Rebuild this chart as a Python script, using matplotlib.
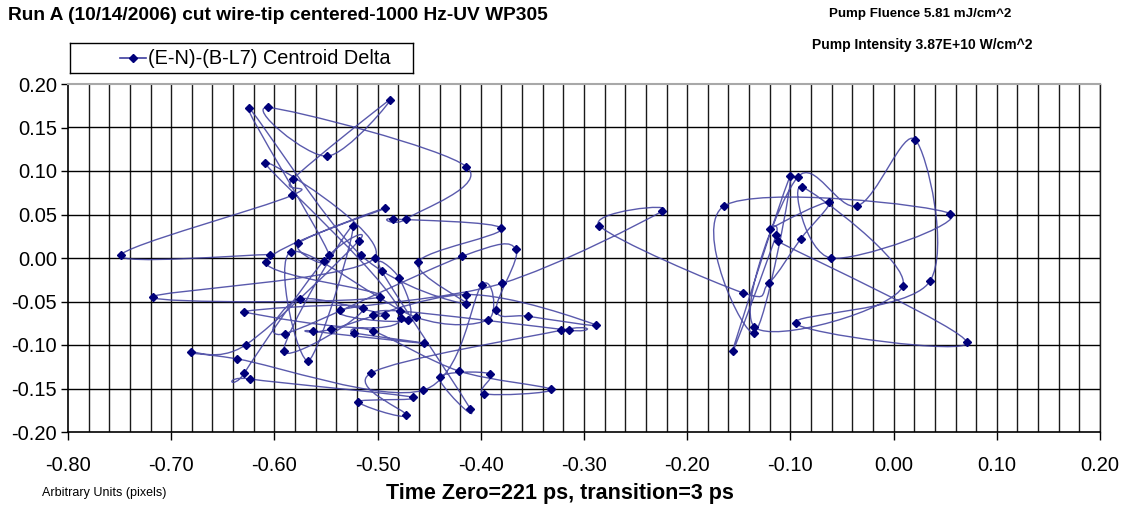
import matplotlib
matplotlib.use("Agg")
import matplotlib.pyplot as plt
from matplotlib.path import Path
from matplotlib.patches import PathPatch
import numpy as np

plt.rcParams['font.family'] = ['Liberation Sans', 'DejaVu Sans']

# Centroid delta track, in recorded order
x_vals = [
    -0.604, -0.749, -0.583, -0.582, -0.488, -0.549, -0.606, -0.414, -0.472, -0.485,
    -0.380, -0.461, -0.414, -0.516, -0.625, -0.547, -0.577, -0.493, -0.608, -0.498,
    -0.718, -0.503, -0.609, -0.477, -0.629, -0.514, -0.591, -0.524, -0.567, -0.584,
    -0.463, -0.393, -0.399, -0.456, -0.636, -0.681, -0.628, -0.518, -0.552, -0.629,
    -0.624, -0.466, -0.519, -0.472, -0.506, -0.322, -0.315, -0.478, -0.504, -0.493,
    -0.575, -0.590, -0.418, -0.366, -0.385, -0.354, -0.288, -0.414, -0.545, -0.563,
    -0.455, -0.523, -0.504, -0.421, -0.332, -0.397, -0.391, -0.440, -0.410, -0.496,
    -0.479, -0.471, -0.536, -0.379,
    -0.224, -0.285, -0.146, -0.121, -0.090, -0.063, -0.120, -0.114, -0.156, -0.100,
    -0.135, -0.164, 0.055, -0.061, -0.089, 0.009, -0.135, -0.093, -0.035, 0.021,
    0.035, -0.095, 0.071, -0.112,
]
y_vals = [
    0.004, 0.003, 0.072, 0.091, 0.182, 0.117, 0.173, 0.105, 0.045, 0.045,
    0.034, -0.005, -0.053, 0.003, 0.172, 0.004, 0.017, 0.057, -0.005, -0.045,
    -0.045, 0.000, 0.109, -0.069, -0.062, -0.057, -0.107, 0.037, -0.118, 0.007,
    -0.068, -0.071, -0.031, -0.152, -0.116, -0.108, -0.100, 0.020, -0.003, -0.132,
    -0.139, -0.160, -0.165, -0.181, -0.132, -0.083, -0.083, -0.061, -0.066, -0.065,
    -0.047, -0.087, 0.002, 0.010, -0.060, -0.067, -0.077, -0.042, -0.082, -0.084,
    -0.098, -0.086, -0.084, -0.130, -0.151, -0.156, -0.133, -0.137, -0.174, -0.015,
    -0.023, -0.071, -0.060, -0.029,
    0.054, 0.037, -0.040, -0.029, 0.022, 0.064, 0.033, 0.026, -0.107, 0.094,
    -0.086, 0.060, 0.051, 0.000, 0.082, -0.032, -0.079, 0.093, 0.060, 0.136,
    -0.027, -0.075, -0.097, 0.019,
]

x_ticks = [-0.80, -0.70, -0.60, -0.50, -0.40, -0.30, -0.20, -0.10, 0.00, 0.10, 0.20]
y_ticks = [-0.20, -0.15, -0.10, -0.05, 0.00, 0.05, 0.10, 0.15, 0.20]

series_label = "(E-N)-(B-L7) Centroid Delta"
title_text = "Run A (10/14/2006) cut wire-tip centered-1000 Hz-UV WP305"
note_fluence = "Pump Fluence 5.81 mJ/cm^2"
note_intensity = "Pump Intensity 3.87E+10 W/cm^2"
x_label = "Time Zero=221 ps, transition=3 ps"
units_note = "Arbitrary Units (pixels)"

line_color = "#3d3d9e"
marker_color = "#00007a"


def smooth_path(xs, ys, sx=1.0, sy=1.0):
    """Cubic Bezier path through the points (Catmull-Rom style tangents)."""
    pts = np.column_stack([np.asarray(xs) * sx, np.asarray(ys) * sy])
    n = len(pts)
    verts = [pts[0]]
    codes = [Path.MOVETO]
    for i in range(n - 1):
        p_prev = pts[i - 1] if i > 0 else pts[i]
        p0 = pts[i]
        p1 = pts[i + 1]
        p_next = pts[i + 2] if i + 2 < n else pts[i + 1]
        c1 = p0 + (p1 - p_prev) / 6.0
        c2 = p1 - (p_next - p0) / 6.0
        verts.extend([c1, c2, p1])
        codes.extend([Path.CURVE4] * 3)
    verts = np.array(verts)
    verts[:, 0] /= sx
    verts[:, 1] /= sy
    return Path(verts, codes)


def fmt(v):
    v = round(v, 2)
    if abs(v) < 1e-9:
        v = 0.0
    return f"{v:.2f}"


fig = plt.figure(figsize=(11.27, 5.12), dpi=100)
ax = fig.add_axes([68 / 1127, 1 - 432 / 512, 1032 / 1127, 348 / 512])

ax.set_xlim(-0.80, 0.20)
ax.set_ylim(-0.20, 0.20)

# grid: vertical every 0.02, horizontal every 0.05
for gx in np.arange(-0.78, 0.2001, 0.02):
    ax.axvline(gx, color="#1a1a1a", lw=1.0, zorder=0)
for gy in np.arange(-0.15, 0.1501, 0.05):
    ax.axhline(gy, color="#000000", lw=1.0, zorder=0)

ax.add_patch(PathPatch(smooth_path(x_vals, y_vals, 1032, 870), facecolor="none",
                       edgecolor=line_color, lw=1.0, alpha=0.85, zorder=2))
ax.plot(x_vals, y_vals, linestyle="none", marker="D", markersize=4.2,
        color=marker_color, zorder=3)

ax.set_xticks(x_ticks)
ax.set_xticklabels([fmt(v) for v in x_ticks])
ax.set_yticks(y_ticks)
ax.set_yticklabels([fmt(v) for v in y_ticks])
ax.tick_params(axis="x", direction="out", length=6, width=1, labelsize=14.5, pad=11)
ax.tick_params(axis="y", direction="out", length=5, width=1, labelsize=14.5, pad=3)

for side in ("left", "bottom"):
    ax.spines[side].set_color("#000000")
    ax.spines[side].set_linewidth(1.2)
ax.spines["top"].set_color("#a8a8a8")
ax.spines["top"].set_linewidth(1.5)
ax.spines["right"].set_color("#1a1a1a")
ax.spines["right"].set_linewidth(1.0)

fig.text(8 / 1127, 1 - 15 / 512, title_text, fontsize=13.8, fontweight="bold",
         ha="left", va="center")
fig.text(920 / 1127, 1 - 14 / 512, note_fluence, fontsize=9.6, fontweight="bold",
         ha="center", va="center")
fig.text(922 / 1127, 1 - 45 / 512, note_intensity, fontsize=10, fontweight="bold",
         ha="center", va="center")
fig.text(560 / 1127, 1 - 494 / 512, x_label, fontsize=15.5, fontweight="bold",
         ha="center", va="center")
fig.text(42 / 1127, 1 - 493 / 512, units_note, fontsize=9, ha="left", va="center")

# legend box above the plot
leg_ax = fig.add_axes([70 / 1127, 1 - 73 / 512, 343 / 1127, 30 / 512])
leg_ax.set_xlim(0, 343)
leg_ax.set_ylim(0, 30)
leg_ax.set_xticks([])
leg_ax.set_yticks([])
for s in leg_ax.spines.values():
    s.set_color("#000000")
    s.set_linewidth(1.0)
leg_ax.plot([50, 76], [15, 15], color=line_color, lw=1.2)
leg_ax.plot([63], [15], marker="D", markersize=4.2, color=marker_color)
leg_ax.text(78, 15, series_label, fontsize=14.3, ha="left", va="center")

fig.savefig("out.png", dpi=100)
